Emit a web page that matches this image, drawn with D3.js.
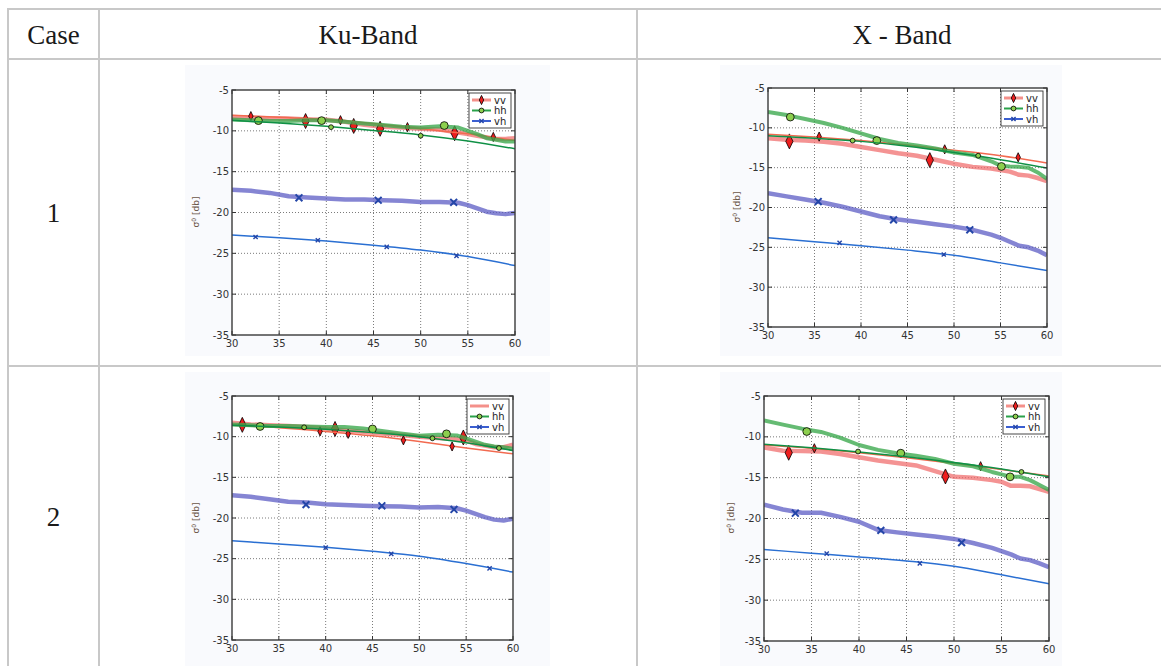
<!DOCTYPE html>
<html><head><meta charset="utf-8">
<script src="https://cdn.jsdelivr.net/npm/d3@7"></script>
<style>body{margin:0;background:#fff;} svg{display:block}</style>
</head><body>
<svg id="c" width="1161" height="666"></svg>
<script>
// ---------- data ----------
const columnHeaders = ["Case", "Ku-Band", "X - Band"];
const caseLabels = ["1", "2"];
const xTicks = [30, 35, 40, 45, 50, 55, 60];
const yTicks = [-5, -10, -15, -20, -25, -30, -35];
const seriesNames = ["vv", "hh", "vh"];
const measuredAngles = [30,32,34,36,38,40,42,44,46,48,50,52,54,55,56,57,58,59,60];
const modelAngles = [30, 35, 40, 45, 50, 55, 60];

// Ku-Band, case 1
const ku1VvMeasured = [-8.3,-8.4,-8.45,-8.5,-8.6,-8.65,-8.9,-9.25,-9.5,-9.6,-9.75,-9.85,-10.2,-10.4,-10.6,-10.8,-11.0,-11.0,-10.9];
const ku1HhMeasured = [-8.6,-8.7,-8.8,-8.8,-8.7,-8.7,-8.9,-9.1,-9.3,-9.5,-9.6,-9.45,-9.6,-10.0,-10.4,-10.9,-11.1,-11.3,-11.3];
const ku1VhMeasured = [-17.2,-17.35,-17.6,-18.0,-18.15,-18.3,-18.4,-18.4,-18.5,-18.55,-18.7,-18.7,-18.8,-19.1,-19.5,-19.9,-20.1,-20.2,-20.05];
const ku1VvModel = [-8.1,-8.35,-8.6,-9.1,-9.75,-10.35,-11.2];
const ku1HhModel = [-8.7,-9.05,-9.45,-9.95,-10.5,-11.25,-12.2];
const ku1VhModel = [-22.75,-23.1,-23.5,-24.0,-24.6,-25.4,-26.5];
const ku1VvMarkers = { measured: [[37.8,-8.8],[42.9,-9.4],[45.7,-9.75],[53.6,-10.3]], model: [[32,-8.2],[41.5,-8.7],[48.6,-9.55],[57.7,-10.75]] };
const ku1HhMarkers = { measured: [[32.8,-8.75],[39.5,-8.75],[52.5,-9.35]], model: [[40.5,-9.55],[50,-10.6]] };
const ku1VhMarkers = { measured: [[37.1,-18.2],[45.5,-18.5],[53.5,-18.75]], model: [[32.5,-23.0],[39.1,-23.4],[46.4,-24.2],[53.8,-25.3]] };

// X-Band, case 1
const x1VvMeasured = [-11.3,-11.5,-11.6,-11.75,-12.0,-12.4,-12.8,-13.2,-13.5,-14.0,-14.5,-14.9,-15.1,-15.3,-15.5,-15.9,-16.0,-16.3,-16.7];
const x1HhMeasured = [-8.0,-8.4,-8.9,-9.4,-10.0,-10.7,-11.4,-11.9,-12.2,-12.6,-13.1,-13.4,-14.2,-14.75,-14.85,-14.9,-15.0,-15.6,-16.4];
const x1VhMeasured = [-18.2,-18.6,-19.0,-19.4,-19.9,-20.5,-21.1,-21.5,-21.8,-22.1,-22.4,-22.8,-23.4,-23.8,-24.3,-24.8,-25.0,-25.4,-26.0];
const x1VvModel = [-10.8,-11.15,-11.6,-12.15,-12.8,-13.5,-14.4];
const x1HhModel = [-11.0,-11.3,-11.7,-12.3,-13.1,-14.0,-15.05];
const x1VhModel = [-23.8,-24.3,-24.8,-25.35,-26.0,-26.95,-27.9];
const x1VvMarkers = { measured: [[32.3,-11.7],[47.4,-14.05]], model: [[35.5,-11.1],[49,-12.7],[56.9,-13.7]] };
const x1HhMarkers = { measured: [[32.4,-8.65],[41.7,-11.6],[55.1,-14.85]], model: [[39.1,-11.6],[52.6,-13.5]] };
const x1VhMarkers = { measured: [[35.4,-19.25],[43.5,-21.55],[51.7,-22.8]], model: [[37.7,-24.45],[48.9,-25.9]] };

// Ku-Band, case 2
const ku2VvMeasured = [-8.3,-8.5,-8.6,-8.7,-8.8,-9.0,-9.2,-9.4,-9.6,-9.8,-10.0,-10.15,-10.3,-10.5,-10.9,-11.1,-11.3,-11.3,-11.0];
const ku2HhMeasured = [-8.5,-8.6,-8.7,-8.7,-8.75,-8.8,-8.8,-9.0,-9.3,-9.6,-9.9,-9.75,-9.85,-10.2,-10.6,-11.0,-11.2,-11.3,-11.5];
const ku2VhMeasured = [-17.2,-17.4,-17.7,-18.0,-18.1,-18.3,-18.4,-18.5,-18.55,-18.6,-18.7,-18.65,-18.8,-19.1,-19.5,-19.9,-20.2,-20.3,-20.1];
const ku2VvModel = [-8.6,-8.9,-9.35,-9.9,-10.6,-11.4,-12.1];
const ku2HhModel = [-8.6,-8.8,-9.1,-9.5,-10.0,-10.75,-11.7];
const ku2VhModel = [-22.8,-23.2,-23.6,-24.1,-24.7,-25.6,-26.65];
const ku2VvMarkers = { measured: [[31.1,-8.55],[41,-9.05],[54.7,-10.1]], model: [[39.4,-9.35],[42.4,-9.65],[48.3,-10.45],[53.5,-11.2]] };
const ku2HhMarkers = { measured: [[33,-8.75],[45,-9.05],[52.9,-9.65]], model: [[37.7,-8.85],[51.4,-10.2],[58.5,-11.4]] };
const ku2VhMarkers = { measured: [[37.9,-18.35],[46,-18.5],[53.7,-18.95]], model: [[40,-23.65],[47,-24.4],[57.5,-26.2]] };

// X-Band, case 2
const x2VvMeasured = [-11.3,-11.7,-11.75,-11.8,-12.1,-12.5,-12.9,-13.2,-13.5,-14.2,-14.9,-15.0,-15.3,-15.5,-16.0,-16.0,-16.05,-16.4,-16.75];
const x2HhMeasured = [-8.0,-8.5,-9.0,-9.4,-10.1,-11.0,-11.6,-12.0,-12.3,-12.7,-13.3,-13.6,-14.3,-14.6,-14.9,-14.9,-15.3,-15.9,-16.5];
const x2VhMeasured = [-18.3,-18.9,-19.3,-19.3,-19.8,-20.4,-21.4,-21.7,-21.95,-22.2,-22.5,-23.0,-23.6,-24.0,-24.4,-24.9,-25.1,-25.5,-25.95];
const x2VvModel = [-11.0,-11.4,-11.95,-12.55,-13.25,-14.0,-14.8];
const x2HhModel = [-10.9,-11.35,-11.85,-12.45,-13.15,-13.95,-14.9];
const x2VhModel = [-23.8,-24.25,-24.7,-25.2,-25.85,-26.9,-28.0];
const x2VvMarkers = { measured: [[32.6,-11.95],[49.1,-14.85]], model: [[35.3,-11.4],[52.8,-13.6]] };
const x2HhMarkers = { measured: [[34.5,-9.35],[44.4,-12.0],[55.9,-14.9]], model: [[39.9,-11.8],[57.1,-14.3]] };
const x2VhMarkers = { measured: [[33.3,-19.35],[42.3,-21.45],[50.8,-22.95]], model: [[36.6,-24.3],[46.4,-25.5]] };

// ---------- layout / style ----------
const charts = [
  { box:{left:232,right:515,top:90,bottom:335}, bg:[185,65,550,356], ylab:[199,212], legendVvMarker:true,
    meas:[ku1VvMeasured,ku1HhMeasured,ku1VhMeasured], model:[ku1VvModel,ku1HhModel,ku1VhModel], marks:[ku1VvMarkers,ku1HhMarkers,ku1VhMarkers] },
  { box:{left:768,right:1047,top:88,bottom:327}, bg:[720,65,1062,356], ylab:[740,207], legendVvMarker:true,
    meas:[x1VvMeasured,x1HhMeasured,x1VhMeasured], model:[x1VvModel,x1HhModel,x1VhModel], marks:[x1VvMarkers,x1HhMarkers,x1VhMarkers] },
  { box:{left:232,right:513,top:396,bottom:640}, bg:[185,372,550,666], ylab:[199,518], legendVvMarker:false,
    meas:[ku2VvMeasured,ku2HhMeasured,ku2VhMeasured], model:[ku2VvModel,ku2HhModel,ku2VhModel], marks:[ku2VvMarkers,ku2HhMarkers,ku2VhMarkers] },
  { box:{left:764,right:1049,top:396,bottom:641}, bg:[720,372,1062,666], ylab:[734,518], legendVvMarker:true,
    meas:[x2VvMeasured,x2HhMeasured,x2VhMeasured], model:[x2VvModel,x2HhModel,x2VhModel], marks:[x2VvMarkers,x2HhMarkers,x2VhMarkers] }
];
const measStyle = [
  {stroke:"#f06a6a", width:4.5, op:0.72},
  {stroke:"#3aa84c", width:4, op:0.78},
  {stroke:"#5c5cc4", width:4.5, op:0.75}
];
const modelStyle = [
  {stroke:"#f26a50", width:1.5},
  {stroke:"#0f9045", width:1.5},
  {stroke:"#2a6fd2", width:1.5}
];

const svg = d3.select("#c");

// ---------- table ----------
const gridColor = "#c8c8c8";
const tbl = svg.append("g");
const hLines = [9, 59, 366];
const vLines = [8, 99, 637];
hLines.forEach(yv => tbl.append("line").attr("x1",7).attr("x2",1161).attr("y1",yv).attr("y2",yv)
  .attr("stroke",gridColor).attr("stroke-width",2));
vLines.forEach(xv => tbl.append("line").attr("x1",xv).attr("x2",xv).attr("y1",8).attr("y2",666)
  .attr("stroke",gridColor).attr("stroke-width",2));
const colCenters = [53.5, 368, 902];
columnHeaders.forEach((t,i) => tbl.append("text").attr("x",colCenters[i]).attr("y",44)
  .attr("text-anchor","middle").attr("font-family","'Liberation Serif','Times New Roman',serif")
  .attr("font-size",27).attr("fill","#1a1a1a").text(t));
const rowCenters = [213, 517];
caseLabels.forEach((t,i) => tbl.append("text").attr("x",53.5).attr("y",rowCenters[i]+9)
  .attr("text-anchor","middle").attr("font-family","'Liberation Serif','Times New Roman',serif")
  .attr("font-size",27).attr("fill","#1a1a1a").text(t));

// ---------- markers ----------
function drawMarker(g, kind, cx, cy, big) {
  if (kind === 0) { // thin diamond
    const w = big ? 3.6 : 2.2, h = big ? 7.5 : 4.6;
    g.append("path").attr("d",`M${cx},${cy-h}L${cx+w},${cy}L${cx},${cy+h}L${cx-w},${cy}Z`)
      .attr("fill","#ee1d1d").attr("stroke","#000").attr("stroke-width",0.8);
  } else if (kind === 1) {
    g.append("circle").attr("cx",cx).attr("cy",cy).attr("r", big ? 3.9 : 2.4)
      .attr("fill","#8ccf4e").attr("stroke","#000").attr("stroke-width",0.8);
  } else {
    const s = big ? 3.4 : 2.1;
    g.append("path").attr("d",`M${cx-s},${cy-s}L${cx+s},${cy+s}M${cx-s},${cy+s}L${cx+s},${cy-s}`)
      .attr("stroke","#2446a8").attr("stroke-width", big ? 2 : 1.4).attr("fill","none");
  }
}

// ---------- charts ----------
charts.forEach(cfg => {
  const b = cfg.box;
  const g = svg.append("g");
  const x = d3.scaleLinear().domain([30,60]).range([b.left,b.right]);
  const y = d3.scaleLinear().domain([-35,-5]).range([b.bottom,b.top]);

  g.append("rect").attr("x",cfg.bg[0]).attr("y",cfg.bg[1]).attr("width",cfg.bg[2]-cfg.bg[0])
    .attr("height",cfg.bg[3]-cfg.bg[1]).attr("fill","#f9fafd");
  g.append("rect").attr("x",b.left).attr("y",b.top).attr("width",b.right-b.left)
    .attr("height",b.bottom-b.top).attr("fill","#fff");

  // grid
  xTicks.slice(1,-1).forEach(t => g.append("line").attr("x1",x(t)).attr("x2",x(t))
    .attr("y1",b.top).attr("y2",b.bottom).attr("stroke","#222").attr("stroke-width",0.8)
    .attr("stroke-dasharray","1,2").attr("opacity",0.75));
  yTicks.slice(1,-1).forEach(t => g.append("line").attr("y1",y(t)).attr("y2",y(t))
    .attr("x1",b.left).attr("x2",b.right).attr("stroke","#222").attr("stroke-width",0.8)
    .attr("stroke-dasharray","1,2").attr("opacity",0.75));

  const line = d3.line().x(d => x(d[0])).y(d => y(d[1]));
  const clip = "clip" + Math.round(b.left) + "_" + Math.round(b.top);
  g.append("clipPath").attr("id",clip).append("rect").attr("x",b.left).attr("y",b.top)
    .attr("width",b.right-b.left).attr("height",b.bottom-b.top);
  const pg = g.append("g").attr("clip-path",`url(#${clip})`);

  for (let s = 0; s < 3; s++) {
    const ms = measStyle[s];
    pg.append("path").attr("d", line(measuredAngles.map((a,i)=>[a,cfg.meas[s][i]])))
      .attr("fill","none").attr("stroke",ms.stroke).attr("stroke-width",ms.width)
      .attr("stroke-opacity",ms.op).attr("stroke-linejoin","round").attr("stroke-linecap","butt");
    cfg.marks[s].measured.forEach(p => drawMarker(pg, s, x(p[0]), y(p[1]), true));
    const md = modelStyle[s];
    pg.append("path").attr("d", d3.line().curve(d3.curveMonotoneX).x(d=>x(d[0])).y(d=>y(d[1]))(modelAngles.map((a,i)=>[a,cfg.model[s][i]])))
      .attr("fill","none").attr("stroke",md.stroke).attr("stroke-width",md.width);
    cfg.marks[s].model.forEach(p => drawMarker(pg, s, x(p[0]), y(p[1]), false));
  }

  // ticks (inside, all sides)
  xTicks.forEach(t => {
    g.append("line").attr("x1",x(t)).attr("x2",x(t)).attr("y1",b.bottom).attr("y2",b.bottom-4).attr("stroke","#333");
    g.append("line").attr("x1",x(t)).attr("x2",x(t)).attr("y1",b.top).attr("y2",b.top+4).attr("stroke","#333");
  });
  yTicks.forEach(t => {
    g.append("line").attr("y1",y(t)).attr("y2",y(t)).attr("x1",b.left).attr("x2",b.left+4).attr("stroke","#333");
    g.append("line").attr("y1",y(t)).attr("y2",y(t)).attr("x1",b.right).attr("x2",b.right-4).attr("stroke","#333");
  });
  // spines
  g.append("rect").attr("x",b.left).attr("y",b.top).attr("width",b.right-b.left)
    .attr("height",b.bottom-b.top).attr("fill","none").attr("stroke","#3a3a3a").attr("stroke-width",1.4);

  // tick labels
  const font = "'DejaVu Sans',Verdana,sans-serif";
  xTicks.forEach(t => g.append("text").attr("x",x(t)).attr("y",b.bottom+12).attr("text-anchor","middle")
    .attr("font-family",font).attr("font-size",10).attr("fill","#333").text(t));
  yTicks.forEach(t => g.append("text").attr("x",b.left-3).attr("y",y(t)+3.5).attr("text-anchor","end")
    .attr("font-family",font).attr("font-size",10).attr("fill","#333").text(t));

  // y label
  const yl = g.append("text").attr("transform",`translate(${cfg.ylab[0]},${cfg.ylab[1]}) rotate(-90)`)
    .attr("text-anchor","middle").attr("font-family",font).attr("font-size",9).attr("fill","#6a5446");
  yl.append("tspan").text("σ");
  yl.append("tspan").attr("baseline-shift","super").attr("font-size",6).text("0");
  yl.append("tspan").text(" [db]");

  // legend
  const lw = 42, lh = 35, lx = b.right - lw - 4, ly = b.top + 3;
  const lg = g.append("g");
  lg.append("rect").attr("x",lx).attr("y",ly).attr("width",lw).attr("height",lh)
    .attr("fill","#fff").attr("stroke","#333").attr("stroke-width",0.9);
  seriesNames.forEach((n,i) => {
    const yy = ly + 7 + i*10.5;
    const st = i === 0 ? {stroke:"#f4908a", width:3} : i === 1 ? {stroke:"#2aa24a", width:2} : {stroke:"#3a5ed0", width:2};
    lg.append("line").attr("x1",lx+3).attr("x2",lx+22).attr("y1",yy).attr("y2",yy)
      .attr("stroke",st.stroke).attr("stroke-width",st.width);
    if (i !== 0 || cfg.legendVvMarker) drawMarker(lg, i, lx+12.5, yy, false);
    lg.append("text").attr("x",lx+25).attr("y",yy+3.5).attr("font-family",font).attr("font-size",10)
      .attr("fill","#222").text(n);
  });
});
</script>
</body></html>
